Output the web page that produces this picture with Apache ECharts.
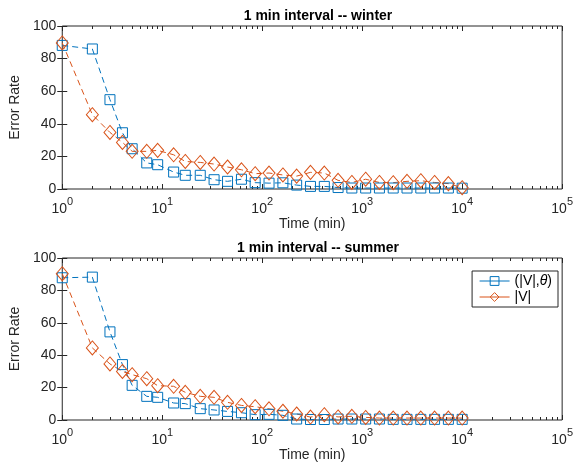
<!DOCTYPE html>
<html>
<head>
<meta charset="utf-8">
<script src="https://cdn.jsdelivr.net/npm/echarts@6/dist/echarts.min.js"></script>
<style>
  html, body { margin: 0; padding: 0; background: #fff; }
  #chart { width: 576px; height: 469px; }
</style>
</head>
<body>
<div id="chart"></div>
<script>
// time steps (min), shared by both panels
const timeMin = [1, 2, 3, 4, 5, 7, 9, 13, 17, 24, 33, 45, 62, 85, 117, 161, 221, 304,
  418, 574, 788, 1083, 1487, 2043, 2807, 3857, 5298, 7279, 10000];

// winter panel
const winterVTheta = [88.1, 85.9, 54.8, 34.5, 24.7, 16, 14.9, 10.4, 8.4, 8.4, 5.7, 4.7, 6,
  3.9, 3.6, 3.8, 2.4, 1.6, 1.6, 0.9, 0.6, 0.6, 0.6, 0.6, 0.6, 0.6, 0.6, 0.6, 0.5];
const winterV = [89.6, 45.6, 34.7, 28.6, 23.1, 23.1, 23.7, 21, 16.9, 16.3, 15.3, 13.5, 11.8,
  9.4, 9.8, 8.6, 7.9, 10.2, 9.8, 5.3, 4, 6, 4, 3.9, 4.7, 5.1, 4, 3.3, 0.8];

// summer panel
const summerVTheta = [87.8, 88.2, 54.4, 34.2, 21.4, 14.6, 14, 10.5, 10.1, 7, 6.2, 5.3, 4.5,
  3.3, 3.5, 2.9, 0.6, 0.3, 0.3, 0.6, 0.6, 0.6, 0.6, 0.4, 0.4, 0.4, 0.4, 0.4, 0.4];
const summerV = [90.3, 44.5, 34.6, 30, 28, 25.5, 21.2, 20.8, 17.1, 14.6, 14, 10.9, 9,
  8.2, 6.9, 5.4, 3.7, 1.8, 3.3, 1.9, 2.3, 1.6, 1.2, 1.2, 1.2, 1.2, 1.2, 1.2, 1.2];

const titles = ['1 min interval -- winter', '1 min interval -- summer'];
const decadeExp = [0, 1, 2, 3, 4, 5];

const BLUE = '#0072BD';
const ORANGE = '#D95319';
const INK = '#262626';
const FONT = 'Liberation Sans, Arial, sans-serif';

// minor tick spots (2..9 in each decade), in log10 units
const minorTicks = [];
decadeExp.slice(0, 5).forEach(d => {
  for (let k = 2; k <= 9; k++) minorTicks.push(d + Math.log10(k));
});

const chart = echarts.init(document.getElementById('chart'));

const grids = [
  { left: 62, width: 502, top: 26, height: 163 },
  { left: 62, width: 502, top: 258, height: 162 }
];

const xAxes = [];
const yAxes = [];
const series = [];

function decoAxis(g, pos, ticks, len, withLabels) {
  const ax = {
    gridIndex: g,
    type: 'value',
    min: 0,
    max: 5,
    position: pos,
    axisLine: { show: false },
    splitLine: { show: false },
    axisTick: { show: true, inside: true, length: len, lineStyle: { color: INK, width: 1 } },
    axisLabel: { show: false }
  };
  if (ticks) {
    ax.axisTick.customValues = ticks;
  } else {
    ax.interval = 1;
  }
  if (withLabels) {
    ax.axisLabel = {
      show: true,
      margin: 7,
      formatter: v => '{b|10}{s|' + Math.round(v) + '}',
      rich: {
        b: { fontSize: 14, lineHeight: 20, color: INK, fontFamily: FONT, verticalAlign: 'bottom' },
        s: { fontSize: 11, lineHeight: 12, color: INK, fontFamily: FONT, verticalAlign: 'top' }
      }
    };
    ax.name = 'Time (min)';
    ax.nameLocation = 'middle';
    ax.nameGap = 26;
    ax.nameTextStyle = { fontSize: 14, color: INK, fontFamily: FONT };
  }
  return ax;
}

[0, 1].forEach(g => {
  const base = xAxes.length;
  // data axis (log), hidden; decoration axes drawn over it
  xAxes.push({ gridIndex: g, type: 'log', logBase: 10, min: 1, max: 100000, show: false });
  xAxes.push(decoAxis(g, 'bottom', null, 5, true));
  xAxes.push(decoAxis(g, 'top', null, 5, false));
  xAxes.push(decoAxis(g, 'bottom', minorTicks, 3, false));
  xAxes.push(decoAxis(g, 'top', minorTicks, 3, false));

  const yBase = yAxes.length;
  yAxes.push({
    gridIndex: g,
    type: 'value',
    min: 0,
    max: 100,
    interval: 20,
    position: 'left',
    name: 'Error Rate',
    nameLocation: 'middle',
    nameGap: 37,
    nameTextStyle: { fontSize: 14, color: INK, fontFamily: FONT },
    axisLine: { show: false },
    splitLine: { show: false },
    axisTick: { inside: true, length: 5, lineStyle: { color: INK } },
    axisLabel: { margin: 6, fontSize: 14, color: INK, fontFamily: FONT }
  });
  yAxes.push({
    gridIndex: g,
    type: 'value',
    min: 0,
    max: 100,
    interval: 20,
    position: 'right',
    axisLine: { show: false },
    splitLine: { show: false },
    axisTick: { inside: true, length: 5, lineStyle: { color: INK } },
    axisLabel: { show: false }
  });

  const vt = g === 0 ? winterVTheta : summerVTheta;
  const v = g === 0 ? winterV : summerV;
  series.push({
    name: '(|V|,θ)',
    type: 'line',
    xAxisIndex: base,
    yAxisIndex: yBase,
    data: timeMin.map((t, i) => [t, vt[i]]),
    symbol: 'rect',
    symbolSize: 10,
    lineStyle: { color: BLUE, width: 1, type: [6, 4] },
    itemStyle: { color: 'rgba(255,255,255,0)', borderColor: BLUE, borderWidth: 1 },
    emphasis: { disabled: true },
    animation: false
  });
  series.push({
    name: '|V|',
    type: 'line',
    xAxisIndex: base,
    yAxisIndex: yBase,
    data: timeMin.map((t, i) => [t, v[i]]),
    symbol: 'diamond',
    symbolSize: [12, 14],
    lineStyle: { color: ORANGE, width: 1, type: [6, 4] },
    itemStyle: { color: 'rgba(255,255,255,0)', borderColor: ORANGE, borderWidth: 1 },
    emphasis: { disabled: true },
    animation: false
  });
});

const option = {
  backgroundColor: '#fff',
  animation: false,
  title: [0, 1].map(g => ({
    text: titles[g],
    left: 313,
    textAlign: 'center',
    top: grids[g].top - 22,
    textStyle: { fontSize: 14, fontWeight: 'bold', color: '#000', fontFamily: FONT }
  })),
  grid: grids.map(gr => Object.assign({ show: true, borderColor: INK, borderWidth: 1, backgroundColor: '#fff' }, gr)),
  legend: {
    data: ['(|V|,θ)', '|V|'],
    orient: 'vertical',
    right: 18,
    top: 271,
    itemGap: 2,
    itemWidth: 30,
    itemHeight: 11,
    padding: [3, 6, 3, 7],
    borderColor: INK,
    borderWidth: 1,
    backgroundColor: '#fff',
    selectedMode: false,
    lineStyle: { width: 1, type: 'solid' },
    itemStyle: { borderWidth: 1 },
    formatter: name => name === '(|V|,θ)' ? '(|V|,{i|θ})' : name,
    textStyle: {
      fontSize: 14, color: '#000', fontFamily: FONT,
      rich: { i: { fontSize: 14, fontStyle: 'italic', color: '#000', fontFamily: FONT } }
    }
  },
  xAxis: xAxes,
  yAxis: yAxes,
  series: series
};

chart.setOption(option);
</script>
</body>
</html>
